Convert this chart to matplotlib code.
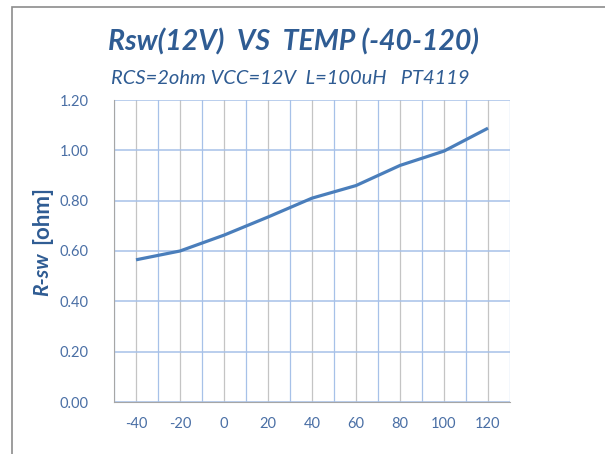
import matplotlib
matplotlib.use("Agg")
import matplotlib.pyplot as plt
from matplotlib.patches import Rectangle

temps = ["-40", "-20", "0", "20", "40", "60", "80", "100", "120"]
rsw = [0.565, 0.60, 0.663, 0.735, 0.81, 0.86, 0.94, 0.997, 1.088]
yticks = [0.0, 0.2, 0.4, 0.6, 0.8, 1.0, 1.2]

W, H = 605, 454
fig = plt.figure(figsize=(W/100, H/100), dpi=100)
plt.rcParams['font.family'] = ['Lato', 'DejaVu Sans']

# outer frame
fig.patches.append(Rectangle((12/W, -0.1), 1.2, 1 - 7/H + 0.1, transform=fig.transFigure,
                             fill=False, edgecolor='#8C8C8C', linewidth=1.2))

L, R, T, B = 114, 510, 100, 402
ax = fig.add_axes([L/W, 1 - B/H, (R-L)/W, (B-T)/H])
x = list(range(len(temps)))
ax.set_xlim(-0.5, len(temps) - 0.5)
ax.set_ylim(0, 1.2)

gridblue = '#A7C1E8'
for i in x:
    ax.axvline(i, color='#C4C4C4', lw=0.9, zorder=1)
for i in range(len(temps) + 1):
    ax.axvline(i - 0.5, color=gridblue, lw=0.9, zorder=1)
for v in yticks:
    ax.axhline(v, color=gridblue, lw=1.1, zorder=1)

ax.plot(x, rsw, color='#4A7EBB', lw=2.3, solid_capstyle='butt', zorder=3)

ax.set_xticks(x)
ax.set_xticklabels(temps)
ax.set_yticks(yticks)
ax.set_yticklabels([f"{v:.2f}" for v in yticks])
ax.tick_params(axis='both', length=0, colors='#4A6FA5', labelsize=10.5)
ax.tick_params(axis='y', pad=18)
ax.tick_params(axis='x', pad=11)

for s in ['top', 'right']:
    ax.spines[s].set_visible(False)
ax.spines['left'].set_color('#A6A6A6')
ax.spines['bottom'].set_color('#A6A6A6')
ax.spines['left'].set_zorder(2)
ax.spines['bottom'].set_zorder(2)

fig.text(294/W, 1 - 42/H, "Rsw(12V)  VS  TEMP (-40-120)", ha='center', va='center',
         fontsize=20.5, fontweight='bold', fontstyle='italic', color='#2F5C93')
fig.text(290/W, 1 - 78/H, "RCS=2ohm VCC=12V  L=100uH   PT4119", ha='center', va='center',
         fontsize=14.5, fontstyle='italic', color='#2F5C93')
fig.text(42/W, 1 - 296/H, "R-sw", ha='left', va='center', rotation=90, rotation_mode='anchor',
         fontsize=15, fontweight='bold', fontstyle='italic', color='#2F5C93')
fig.text(42/W, 1 - 244/H, "[ohm]", ha='left', va='center', rotation=90, rotation_mode='anchor',
         fontsize=16, fontweight='bold', color='#2F5C93')

fig.savefig("out.png", dpi=100)
